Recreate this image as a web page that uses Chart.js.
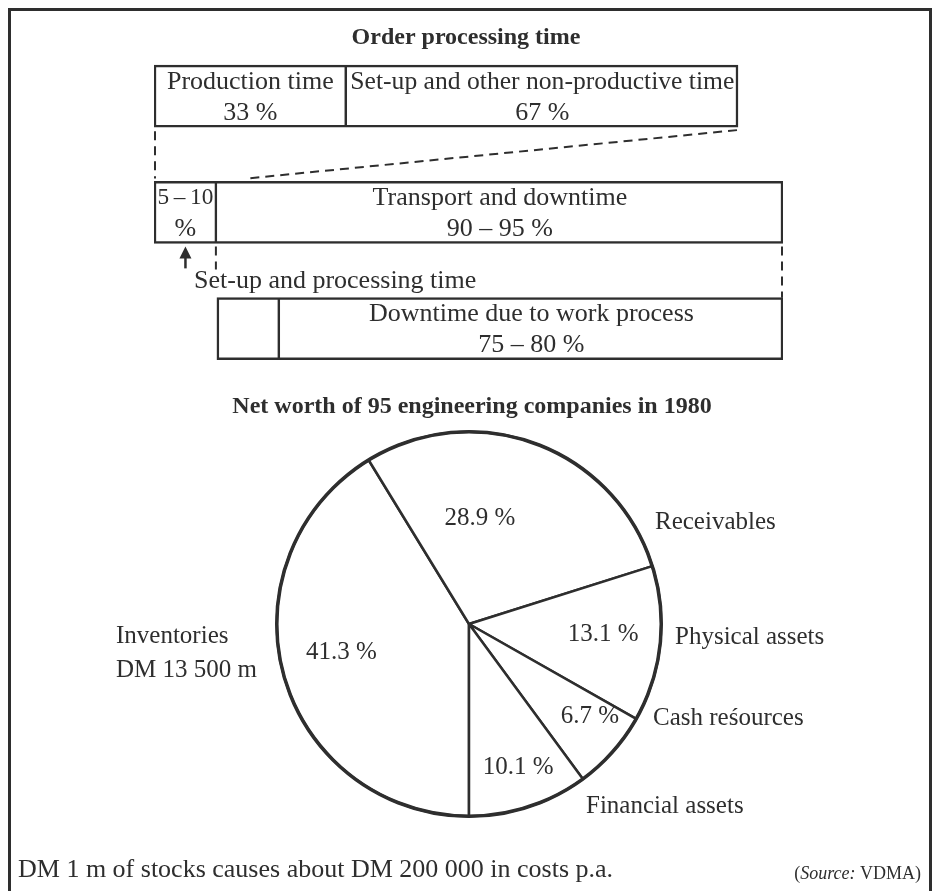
<!DOCTYPE html>
<html>
<head>
<meta charset="utf-8">
<script src="https://cdn.jsdelivr.net/npm/chart.js@4.4.1/dist/chart.umd.min.js"></script>
<style>
  html, body { margin:0; padding:0; background:#fff; width:942px; height:891px; overflow:hidden; }
  #frame { position:absolute; left:8px; top:8px; width:924px; height:900px; border:3px solid #2e2e2e; box-sizing:border-box; }
  canvas { position:absolute; left:0; }
  #bars { top:0; }
  #pie { top:380px; }
</style>
</head>
<body>
<div id="frame"></div>
<canvas id="bars" width="942" height="400"></canvas>
<canvas id="pie" width="942" height="511"></canvas>
<script>
// ---------- data ----------
const rowNames = ['Order processing time', 'Non-productive time', 'Transport and downtime'];
const row1Values = [33, 67];
const row1Labels = [['Production time', '33 %'], ['Set-up and other non-productive time', '67 %']];
const row2Values = [10, 90];
const row2Labels = [['5\u2009\u2013\u200910', '%'], ['Transport and downtime', '90 \u2013 95 %']];
const row3Values = [10, 80];
const row3Labels = [['', ''], ['Downtime due to work process', '75 \u2013 80 %']];
const setupNote = 'Set-up and processing time';

const pieLabels = ['Inventories', 'Receivables', 'Physical assets', 'Cash re\u015Bources', 'Financial assets'];
const pieExtra = ['DM 13 500 m', '', '', '', ''];
const pieValues = [41.3, 28.9, 13.1, 6.7, 10.1];

const title1 = 'Order processing time';
const title2 = 'Net worth of 95 engineering companies in 1980';
const footNote = 'DM 1 m of stocks causes about DM 200 000 in costs p.a.';
const sourceNote = 'VDMA';

// ---------- style ----------
const INK = '#2e2e2e';
const FONT = '"Liberation Serif", "Times New Roman", serif';
function txt(ctx, s, x, y, o = {}) {
  let size = o.size || 26;
  const weight = o.weight || 'normal', style = o.style || 'normal';
  ctx.save();
  ctx.font = `${style} ${weight} ${size}px ${FONT}`;
  if (o.maxWidth) {
    const w = ctx.measureText(s).width;
    if (w > o.maxWidth) { size = size * o.maxWidth / w; ctx.font = `${style} ${weight} ${size}px ${FONT}`; }
  }
  ctx.textAlign = o.align || 'center';
  ctx.textBaseline = 'middle';
  ctx.fillStyle = INK;
  ctx.fillText(s, x, y);
  ctx.restore();
}

// ---------- bar chart (order processing time) ----------
const rows = [
  { values: row1Values, labels: row1Labels, axis: 'x1', start: 0 },
  { values: row2Values, labels: row2Labels, axis: 'x', start: 0 },
  { values: row3Values, labels: row3Labels, axis: 'x', start: row2Values[0] }
];
const barDatasets = [];
rows.forEach((row, r) => {
  let cum = row.start;
  row.values.forEach((v, j) => {
    const data = rowNames.map(() => null);
    data[r] = [cum, cum + v];
    cum += v;
    barDatasets.push({
      label: row.labels[j][0] || 'other',
      data,
      xAxisID: row.axis,
      lines: row.labels[j],
      backgroundColor: '#fff',
      borderColor: INK,
      borderWidth: { top: 2.5, bottom: 2.5, left: j === 0 ? 2.5 : 0, right: 2.5 },
      borderSkipped: false,
      grouped: false,
      barThickness: 62
    });
  });
});

const barDecor = {
  id: 'barDecor',
  afterDraw(chart) {
    const ctx = chart.ctx;
    const el = (ds, idx) => chart.getDatasetMeta(ds).data[idx];
    // title
    txt(ctx, title1, 466, 38, { size: 24, weight: 'bold' });
    // segment labels
    chart.data.datasets.forEach((ds, i) => {
      const meta = chart.getDatasetMeta(i);
      meta.data.forEach((b, idx) => {
        if (ds.data[idx] == null) return;
        const cx = (b.x + b.base) / 2;
        const mw = Math.abs(b.x - b.base) - 7;
        if (ds.lines[0]) txt(ctx, ds.lines[0], cx, b.y - 14, { maxWidth: mw });
        if (ds.lines[1]) txt(ctx, ds.lines[1], cx, b.y + 17, { maxWidth: mw });
      });
    });
    const a = el(0, 0), b = el(1, 0), c = el(2, 1), d = el(3, 1), e = el(4, 2);
    const bot1 = a.y + a.height / 2, top2 = c.y - c.height / 2, bot2 = c.y + c.height / 2;
    const top3 = e.y - e.height / 2;
    ctx.save();
    ctx.strokeStyle = INK;
    ctx.lineWidth = 2;
    ctx.setLineDash([9, 6]);
    ctx.beginPath();
    ctx.moveTo(a.base + 1, bot1 + 4); ctx.lineTo(c.base + 1, top2 - 3);
    ctx.moveTo(b.x - 1, bot1 + 3); ctx.lineTo(d.base + 31, top2 - 3);
    ctx.moveTo(c.x - 1, bot2 + 3); ctx.lineTo(c.x - 1, bot2 + 26);
    ctx.moveTo(d.x - 1, bot2 + 3); ctx.lineTo(d.x - 1, top3);
    ctx.stroke();
    ctx.setLineDash([]);
    // arrow
    const ax = (c.base + c.x) / 2;
    ctx.lineWidth = 2.5;
    ctx.beginPath(); ctx.moveTo(ax, bot2 + 25); ctx.lineTo(ax, bot2 + 10); ctx.stroke();
    ctx.fillStyle = INK;
    ctx.beginPath(); ctx.moveTo(ax, bot2 + 3); ctx.lineTo(ax - 6, bot2 + 15); ctx.lineTo(ax + 6, bot2 + 15); ctx.closePath(); ctx.fill();
    ctx.restore();
    txt(ctx, setupNote, c.base + 40, bot2 + 38, { align: 'left' });
  }
};

new Chart(document.getElementById('bars'), {
  type: 'bar',
  data: { labels: rowNames, datasets: barDatasets },
  options: {
    indexAxis: 'y',
    responsive: false,
    animation: false,
    devicePixelRatio: 1,
    layout: { padding: { left: 154, right: 159, top: 38, bottom: 13.25 } },
    scales: {
      y: { type: 'category', display: false, offset: true },
      x: { type: 'linear', display: false, min: 0, max: 100 },
      x1: { axis: 'x', type: 'linear', display: false, min: 0, max: 100 * (783 - 154) / (738 - 154) }
    },
    plugins: { legend: { display: false }, tooltip: { enabled: false }, title: { display: false } }
  },
  plugins: [barDecor]
});

// ---------- pie chart (net worth) ----------
const labelAngleFrac = [0.52, 0.36, 0.47, 0.32, 0.48];
const labelRadiusFrac = [0.68, 0.55, 0.70, 0.79, 0.79];
const outerOffsets = [[-353, 12], [186, -102], [206, 13], [184, 94], [117, 182]];

const pieDecor = {
  id: 'pieDecor',
  afterDatasetsDraw(chart) {
    const ctx = chart.ctx;
    const arcs = chart.getDatasetMeta(0).data;
    const { x, y, outerRadius } = arcs[0];
    ctx.save();
    ctx.strokeStyle = INK;
    ctx.lineWidth = 3.5;
    ctx.beginPath(); ctx.arc(x, y, outerRadius, 0, Math.PI * 2); ctx.stroke();
    ctx.restore();
    arcs.forEach((arc, i) => {
      const ang = arc.startAngle + (arc.endAngle - arc.startAngle) * labelAngleFrac[i];
      const rr = arc.outerRadius * labelRadiusFrac[i];
      txt(ctx, pieValues[i].toFixed(1) + ' %', arc.x + Math.cos(ang) * rr, arc.y + Math.sin(ang) * rr, { size: 25 });
      const [ox, oy] = outerOffsets[i];
      txt(ctx, pieLabels[i], x + ox, y + oy, { size: 25, align: 'left' });
      if (pieExtra[i]) txt(ctx, pieExtra[i], x + ox, y + oy + 34, { size: 25, align: 'left' });
    });
  },
  afterDraw(chart) {
    const ctx = chart.ctx;
    txt(ctx, title2, 472, 27, { size: 24, weight: 'bold' });
    txt(ctx, footNote, 18, 490, { size: 26, align: 'left' });
    // (Source: VDMA)
    ctx.save();
    const sz = 18;
    const right = 921;
    ctx.font = `normal ${sz}px ${FONT}`;
    const wEnd = ctx.measureText(' ' + sourceNote + ')').width;
    ctx.font = `italic ${sz}px ${FONT}`;
    const wMid = ctx.measureText('Source:').width;
    ctx.font = `normal ${sz}px ${FONT}`;
    const wStart = ctx.measureText('(').width;
    const x0 = right - wEnd - wMid - wStart;
    ctx.restore();
    txt(ctx, '(', x0, 494, { size: sz, align: 'left' });
    txt(ctx, 'Source:', x0 + wStart, 494, { size: sz, align: 'left', style: 'italic' });
    txt(ctx, ' ' + sourceNote + ')', x0 + wStart + wMid, 494, { size: sz, align: 'left' });
  }
};

new Chart(document.getElementById('pie'), {
  type: 'pie',
  data: {
    labels: pieLabels,
    datasets: [{ data: pieValues, backgroundColor: '#fff', borderColor: INK, borderWidth: 2.5 }]
  },
  options: {
    responsive: false,
    animation: false,
    devicePixelRatio: 1,
    rotation: 180,
    layout: { padding: { left: 275.5, right: 279.5, top: 50.5, bottom: 73.5 } },
    plugins: { legend: { display: false }, tooltip: { enabled: false } }
  },
  plugins: [pieDecor]
});
</script>
</body>
</html>
